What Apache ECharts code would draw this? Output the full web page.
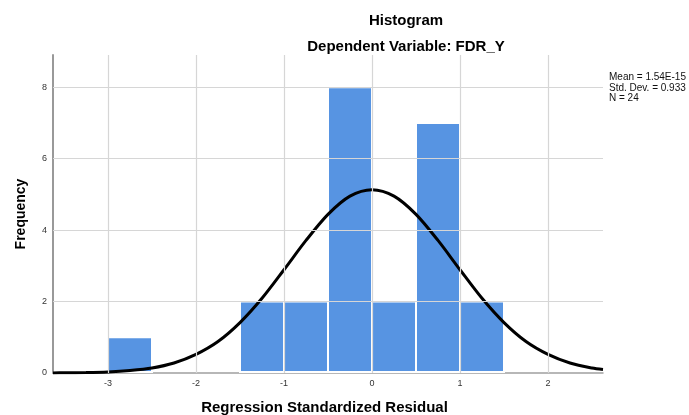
<!DOCTYPE html>
<html>
<head>
<meta charset="utf-8">
<script src="https://cdn.jsdelivr.net/npm/echarts@6/dist/echarts.min.js"></script>
<style>html,body{margin:0;padding:0;background:#fff;}#c{width:689px;height:415px;}</style>
</head>
<body>
<div id="c"></div>
<script>
// Histogram bins: [start, end] and frequency
const binStart = [-3, -1.5, -1, -0.5, 0, 0.5, 1];
const binEnd   = [-2.5, -1, -0.5, 0, 0.5, 1, 1.5];
const binCount = [1, 2, 2, 8, 2, 7, 2];
// Normal curve points
const curveX = [-3.625,-3.5,-3.25,-3,-2.75,-2.5,-2.25,-2,-1.75,-1.5,-1.25,-1,-0.75,-0.5,-0.25,0,0.25,0.5,0.75,1,1.25,1.5,1.75,2,2.25,2.5,2.625];
const curveY = [0.003,0.005,0.012,0.03,0.07,0.14,0.28,0.52,0.88,1.41,2.09,2.89,3.71,4.44,4.95,5.13,4.95,4.44,3.71,2.89,2.09,1.41,0.88,0.52,0.28,0.14,0.10];
const xTicks = [-3, -2, -1, 0, 1, 2];
const yTicks = [0, 2, 4, 6, 8];
const statsLines = ['Mean = 1.54E-15', 'Std. Dev. = 0.933', 'N = 24'];

const FONT = '"Liberation Sans", Arial, sans-serif';
const chart = echarts.init(document.getElementById('c'), null, {renderer: 'canvas'});

const binData = binStart.map((s, i) => [s, binEnd[i], binCount[i]]);
const curveData = curveX.map((x, i) => [x, curveY[i]]);

const gridColor = '#d6d6d6';

chart.setOption({
  animation: false,
  backgroundColor: '#ffffff',
  title: [
    {text: 'Histogram', left: 401, top: 8, textAlign: 'center',
     textStyle: {fontFamily: FONT, fontSize: 15, fontWeight: 'bold', color: '#000'}},
    {text: 'Dependent Variable: FDR_Y', left: 401, top: 34, textAlign: 'center',
     textStyle: {fontFamily: FONT, fontSize: 15, fontWeight: 'bold', color: '#000'}}
  ],
  grid: {left: 53, right: 86, top: 55, bottom: 42, containLabel: false, outerBoundsMode: 'none'},
  xAxis: {
    type: 'value', min: -3.625, max: 2.625,
    name: 'Regression Standardized Residual', nameLocation: 'middle', nameGap: 27,
    nameTextStyle: {fontFamily: FONT, fontSize: 15, fontWeight: 'bold', color: '#000', padding: [0, 7, 0, 0]},
    axisLine: {show: true, onZero: false, lineStyle: {color: '#a0a0a0', width: 1.5}},
    axisTick: {show: false},
    splitLine: {show: false},
    axisLabel: {customValues: xTicks, fontFamily: FONT, fontSize: 9, color: '#333', margin: 6}
  },
  yAxis: {
    type: 'value', min: 0, max: 8.9,
    name: 'Frequency', nameLocation: 'middle', nameGap: 25, nameRotate: 90,
    nameTextStyle: {fontFamily: FONT, fontSize: 14, fontWeight: 'bold', color: '#000'},
    axisLine: {show: true, onZero: false, lineStyle: {color: '#999999', width: 2}},
    axisTick: {show: false},
    splitLine: {show: false},
    axisLabel: {customValues: yTicks, fontFamily: FONT, fontSize: 9, color: '#333', margin: 6}
  },
  series: [
    {
      type: 'line', data: [], silent: true,
      markLine: {
        silent: true, symbol: 'none', label: {show: false},
        lineStyle: {color: gridColor, width: 1.2, type: 'solid'},
        data: xTicks.map(v => ({xAxis: v})).concat(yTicks.filter(v => v > 0).map(v => ({yAxis: v})))
      }
    },
    {
      type: 'custom',
      data: binData,
      encode: {x: [0, 1], y: 2},
      renderItem: function (params, api) {
        const p0 = api.coord([api.value(0), api.value(2)]);
        const p1 = api.coord([api.value(1), 0]);
        return {
          type: 'rect',
          shape: {x: p0[0], y: p0[1], width: p1[0] - p0[0], height: p1[1] - p0[1] - 1},
          style: {fill: '#5794e2', stroke: '#ffffff', lineWidth: 2}
        };
      },
      z: 2
    },
    {
      type: 'line', data: curveData, smooth: 0.3, showSymbol: false,
      lineStyle: {color: '#000', width: 3}, z: 3
    }
  ],
  graphic: [
    {type: 'text', left: 609, top: 72,
     style: {text: statsLines.join('\n'), fontFamily: FONT, fontSize: 10, lineHeight: 10.5, fill: '#111'}}
  ]
});
</script>
</body>
</html>
